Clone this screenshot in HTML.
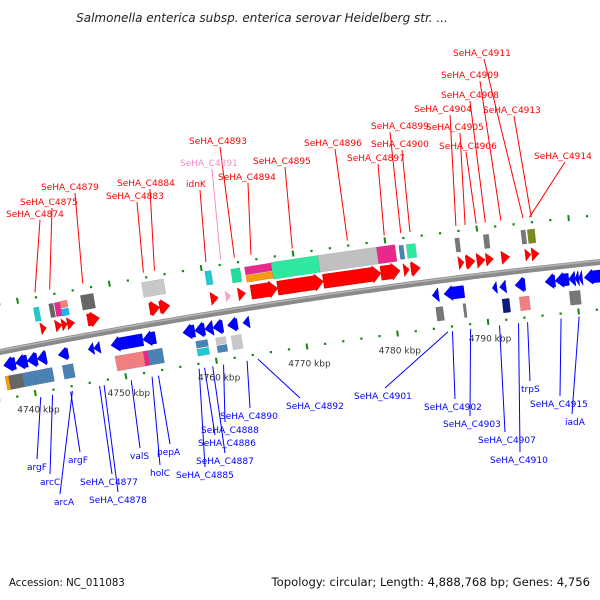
<!DOCTYPE html>
<html><head><meta charset="utf-8"><style>
html,body{margin:0;padding:0;background:#fff;}
svg{display:block;font-family:"DejaVu Sans","Liberation Sans",sans-serif;}
</style></head><body>
<svg id="map" width="600" height="600" viewBox="0 0 600 600">
<text x="262" y="22" font-size="12" font-style="italic" text-anchor="middle" fill="#222">Salmonella enterica subsp. enterica serovar Heidelberg str. ...</text>
<text x="9" y="586" font-size="10.2" fill="#111">Accession: NC_011083</text>
<text x="590" y="586" font-size="11.6" fill="#111" text-anchor="end">Topology: circular; Length: 4,888,768 bp; Genes: 4,756</text>
<g id="lines"></g><g id="rings"></g><g id="backbone"></g><g id="genes"></g><g id="labels"></g>
</svg>
<script>
// ---- data (kbp) ----
const fwdGenes = [[4741.9,4742.5,9],[4743.5,4744.2,9],[4744.2,4744.8,9],[4744.8,4745.6,9],[4747.0,4748.3,12],[4753.8,4754.9,12],[4754.9,4756.0,12],[4760.5,4761.3,10],[4763.5,4764.3,10],[4764.9,4767.8,14],[4767.8,4772.8,14],[4772.8,4779.1,14],[4779.1,4781.2,14],[4781.6,4782.2,10],[4782.4,4783.4,12],[4787.6,4788.2,10],[4788.4,4789.4,12],[4789.6,4790.5,12],[4790.6,4791.4,10],[4792.3,4793.2,10],[4794.9,4795.5,9],[4795.6,4796.4,10]];
const fwdPink = [[4762.1,4762.7,9]];
const revGenes = [[4737.2,4738.5,12],[4738.5,4739.8,12],[4739.8,4740.9,12],[4740.9,4741.9,12],[4743.2,4744.3,10],[4746.5,4747.1,9],[4747.1,4747.8,9],[4749.0,4752.5,12],[4752.5,4753.9,12],[4756.9,4758.2,12],[4758.2,4759.3,12],[4759.3,4760.2,12],[4760.2,4761.3,12],[4761.8,4762.9,11],[4763.5,4764.2,9],[4784.3,4785.0,11],[4785.6,4787.8,12],[4790.9,4791.4,9],[4791.7,4792.4,10],[4793.4,4794.5,12],[4796.7,4797.8,12],[4797.8,4799.3,12],[4799.3,4800.0,12],[4800.0,4800.4,12],[4800.4,4800.8,12],[4801.0,4802.9,12]];
const featStart = [4741.5,4743.2,4743.8,4744.4,4744.4,4746.7,4753.4,4760.3,4763.1,4764.6,4764.6,4767.5,4772.6,4779.0,4781.4,4782.2,4787.5,4790.6,4794.7,4795.4,
 4737.1,4737.5,4739.0,4740.4,4741.5,4743.4,4749.2,4752.3,4752.8,4758.1,4758.1,4760.3,4760.3,4762.0,4784.5,4787.5,4791.8,4793.7,4799.2,4802.6];
const featEnd = [4742.1,4743.7,4744.4,4745.2,4745.2,4748.1,4755.8,4761.0,4764.1,4767.5,4767.5,4772.6,4779.0,4781.0,4781.9,4783.2,4788.0,4791.2,4795.2,4796.2,
 4737.5,4739.0,4740.4,4741.5,4742.3,4744.6,4752.3,4752.8,4754.4,4759.4,4759.4,4761.4,4761.4,4763.1,4785.3,4787.8,4792.6,4794.8,4800.4,4803.0];
const featColor = ['#22c8d0','#666','#e8288c','#f08080','#1ab8ee','#666','#c8c8c8','#22c8d0','#22dd99','#e8288c','#f79a10','#2ee8a0','#c0c0c0','#e8288c','#4a82b4','#2ee8a0','#777','#777','#777','#7a8a20',
 '#f79a10','#666','#4a82b4','#4a82b4','#4a82b4','#4a82b4','#f08080','#e8288c','#4a82b4','#4a82b4','#22c8d0','#c8c8c8','#4a82b4','#c8c8c8','#777','#777','#0a1a80','#f08080','#777','#777'];
const featOff = [30,31,31,35,27,33,35,36,34,37,29,33,33,33,33,33,33,33,33,33,
 -32,-32,-32,-32,-32,-32,-33,-33,-33,-28,-36,-28,-36,-32,-33,-33,-33,-33,-33,-33];
const featH = [14,14,14,7,7,15,15,14,14,8,7,17,17,17,14,14,14,14,14,14,
 14,14,14,14,14,14,15,15,15,7,7,7,7,14,14,14,14,14,14,14];
const tickKbp = [4740,4750,4760,4770,4780,4790];
const tickLabels = ['4740 kbp','4750 kbp','4760 kbp','4770 kbp','4780 kbp','4790 kbp'];
const topLabels = ['SeHA_C4874','SeHA_C4875','SeHA_C4879','SeHA_C4883','SeHA_C4884','idnK','SeHA_C4891','SeHA_C4893','SeHA_C4894','SeHA_C4895','SeHA_C4896','SeHA_C4897','SeHA_C4899','SeHA_C4900','SeHA_C4904','SeHA_C4905','SeHA_C4906','SeHA_C4908','SeHA_C4909','SeHA_C4911','SeHA_C4913','SeHA_C4914'];
const topTarget = [4742.0,4743.6,4747.2,4753.8,4755.0,4760.6,4762.2,4763.7,4765.5,4770,4776,4780,4781.8,4782.8,4787.8,4788.8,4790,4791,4792.7,4795.1,4796,4795.8];
const topPos = [[6,213,40],[20,201,52],[41,186,75],[106,195,137],[117,182,150],[186,183,200],[180,162,212],[189,140,220],[218,176,248],[253,160,285],[304,142,335],[347,157,378],[371,125,390],[371,143,402],[414,108,450],[426,126,460],[439,145,466],[441,94,470],[441,74,480],[453,52,484],[483,109,514],[534,155,565]];
const botLabels = ['argF','arcC','arcA','argF','SeHA_C4877','SeHA_C4878','valS','holC','pepA','SeHA_C4885','SeHA_C4886','SeHA_C4887','SeHA_C4888','SeHA_C4890','SeHA_C4892','SeHA_C4901','SeHA_C4902','SeHA_C4903','SeHA_C4907','SeHA_C4910','trpS','SeHA_C4915','iadA'];
const botTarget = [4740.5,4741.8,4744.0,4743.8,4747,4747.5,4750.5,4752.8,4753.5,4758.0,4758.6,4759.5,4760.7,4763.3,4764.5,4785.5,4786,4788,4791.2,4793.3,4794.3,4798,4800];
const botPos = [[27,466,37],[40,481,50],[54,501,60],[68,459,80],[80,481,112],[89,499,118],[130,455,140],[150,472,160],[157,451,170],[176,474,205],[198,442,215],[196,460,225],[201,429,225],[220,415,250],[286,405,300],[354,395,385],[424,406,455],[443,423,470],[478,439,505],[490,459,520],[521,388,530],[530,403,560],[565,421,572]];

// ---- axis ----
const NS='http://www.w3.org/2000/svg';
function xk(k){return 26.4+(k-4740)*9.12;}
function pt(k,off){const x0=xk(k);const y0=352-0.1967*x0+7.78e-5*x0*x0;const s=-0.1967+1.556e-4*x0;const N=Math.sqrt(1+s*s);return [x0+off*s/N,y0-off/N];}
function mk(tag,attrs,parent){const e=document.createElementNS(NS,tag);for(const a in attrs)e.setAttribute(a,attrs[a]);document.getElementById(parent).appendChild(e);return e;}
function poly(pts){return pts.map(p=>p[0].toFixed(1)+','+p[1].toFixed(1)).join(' ');}

let d='';for(let k=4736;k<=4806;k+=0.5){const p=pt(k,0);d+=(d?'L':'M')+p[0].toFixed(1)+','+p[1].toFixed(1);}
let bb=mk('path',{d:d,stroke:'#8a8a8a','stroke-width':6,fill:'none'},'backbone');


let bb2=mk('path',{d:d,stroke:'#b4b4b4','stroke-width':1.5,fill:'none',transform:'translate(0,-1.5)'},'backbone');



for(let k=4736;k<=4806;k+=2){
 if(k%10===0)continue;
 for(const off of [47,-47]){const p=pt(k,off);const c=mk('rect',{x:p[0]-1,y:p[1]-1,width:2.2,height:2.2,fill:'#118811'},'rings');
  
  }
}
for(let k=4730;k<=4810;k+=10){
 for(const off of [47,-47]){const a=pt(k,off-3),b=pt(k,off+3);const l=mk('line',{x1:a[0],y1:a[1],x2:b[0],y2:b[1],stroke:'#118811','stroke-width':2},'rings');
  
  }
}
tickKbp.forEach((k,i)=>{
 const t=pt(k,-64);const tx=mk('text',{x:t[0],y:t[1]+3,'font-size':9,'text-anchor':'middle',fill:'#333'},'labels');tx.textContent=tickLabels[i];
 
 
});

function arrow(k1,k2,h,off,dir){const hl=Math.min(k2-k1,0.9);const b=h/2,hh=h/2+1.5;
 if(dir>0)return [pt(k1,off+b),pt(k2-hl,off+b),pt(k2-hl,off+hh),pt(k2,off),pt(k2-hl,off-hh),pt(k2-hl,off-b),pt(k1,off-b)];
 return [pt(k2,off+b),pt(k1+hl,off+b),pt(k1+hl,off+hh),pt(k1,off),pt(k1+hl,off-hh),pt(k1+hl,off-b),pt(k2,off-b)];}
fwdGenes.forEach(g=>{const e=mk('polygon',{points:poly(arrow(g[0],g[1],g[2],15,1)),fill:'#ff0000',stroke:'#d00000','stroke-width':0.5},'genes');
 
 });
fwdPink.forEach(g=>{const e=mk('polygon',{points:poly(arrow(g[0],g[1],g[2],15,1)),fill:'#f8a0c8'},'genes');
 
 });
revGenes.forEach(g=>{const e=mk('polygon',{points:poly(arrow(g[0],g[1],g[2],-14,-1)),fill:'#0000ff',stroke:'#0000c0','stroke-width':0.5},'genes');
 
 });
featStart.forEach((s,i)=>{const e=featEnd[i],o=featOff[i],h=featH[i]/2;
 const r=mk('polygon',{points:poly([pt(s,o+h),pt(e,o+h),pt(e,o-h),pt(s,o-h)]),fill:featColor[i],stroke:'rgba(0,0,0,0.15)','stroke-width':0.5},'genes');
 
 });

topLabels.forEach((t,i)=>{const [x,y,sx]=topPos[i];const e=pt(topTarget[i],52);
 const l=mk('line',{x1:sx,y1:y+7,x2:e[0],y2:e[1],stroke:i===6?'#f58cc8':'#ff0000','stroke-width':1},'lines');
 
 
 const tx=mk('text',{x:x,y:y+4,'font-size':9,fill:i===6?'#f58cc8':'#ff0000'},'labels');tx.textContent=t;
 
 });
botLabels.forEach((t,i)=>{const [x,y,sx]=botPos[i];const e=pt(botTarget[i],-52);
 const l=mk('line',{x1:sx,y1:y-7,x2:e[0],y2:e[1],stroke:'#0000ff','stroke-width':1},'lines');
 
 
 const tx=mk('text',{x:x,y:y+4,'font-size':9,fill:'#0000ff'},'labels');tx.textContent=t;
 
 });
</script>
</body></html>
